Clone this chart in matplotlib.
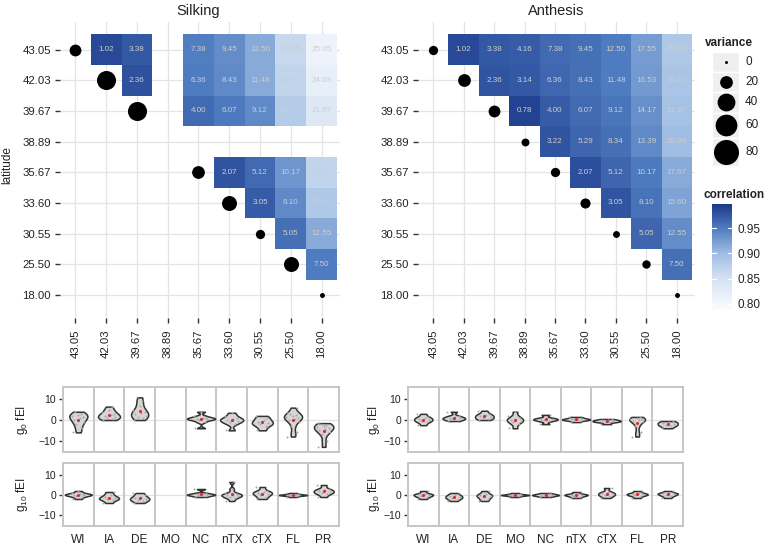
import matplotlib

matplotlib.use("Agg")
import matplotlib.pyplot as plt
import numpy as np
from matplotlib.cm import ScalarMappable
from matplotlib.colors import LinearSegmentedColormap, Normalize
from matplotlib.patches import Rectangle

plt.rcParams["font.family"] = ["Liberation Sans", "DejaVu Sans"]

W, H = 773, 545

LATS = ["43.05", "42.03", "39.67", "38.89", "35.67", "33.60", "30.55", "25.50", "18.00"]
STATES = ["WI", "IA", "DE", "MO", "NC", "nTX", "cTX", "FL", "PR"]
VAR_TICKS = [0, 20, 40, 60, 80]
CORR_TICKS = [0.80, 0.85, 0.90, 0.95]

# upper triangle, row i holds columns i+1 .. 8 (None = no pair)
ANTH_DIFF = [
    [1.02, 3.38, 4.16, 7.38, 9.45, 12.50, 17.55, 25.05],
    [2.36, 3.14, 6.36, 8.43, 11.48, 16.53, 24.03],
    [0.78, 4.00, 6.07, 9.12, 14.17, 21.67],
    [3.22, 5.29, 8.34, 13.39, 20.89],
    [2.07, 5.12, 10.17, 17.67],
    [3.05, 8.10, 15.60],
    [5.05, 12.55],
    [7.50],
]
ANTH_CORR = [
    [0.985, 0.975, 0.972, 0.962, 0.958, 0.95, 0.925, 0.885],
    [0.978, 0.975, 0.965, 0.958, 0.95, 0.928, 0.89],
    [0.99, 0.972, 0.962, 0.955, 0.935, 0.895],
    [0.978, 0.966, 0.958, 0.94, 0.90],
    [0.982, 0.966, 0.952, 0.915],
    [0.978, 0.956, 0.92],
    [0.966, 0.938],
    [0.958],
]
SILK_DIFF = [
    [1.02, 3.38, None, 7.38, 9.45, 12.50, 17.55, 25.05],
    [2.36, None, 6.36, 8.43, 11.48, 16.53, 24.03],
    [None, 4.00, 6.07, 9.12, 14.17, 21.67],
    [None, None, None, None, None],
    [2.07, 5.12, 10.17, 17.67],
    [3.05, 8.10, 15.60],
    [5.05, 12.55],
    [7.50],
]
SILK_CORR = [
    [0.985, 0.975, None, 0.948, 0.938, 0.915, 0.865, 0.81],
    [0.98, None, 0.95, 0.94, 0.915, 0.87, 0.82],
    [None, 0.962, 0.952, 0.94, 0.88, 0.835],
    [None, None, None, None, None],
    [0.978, 0.962, 0.93, 0.87],
    [0.972, 0.94, 0.885],
    [0.958, 0.915],
    [0.95],
]
SILK_VAR = [17, 46, 46, None, 20, 28, 10, 28, 2]
ANTH_VAR = [10, 20, 17, 7, 10, 12, 5, 8, 2]

# fEI values per state (order of STATES)
SILK_G0 = [
    [-6, -4, -2, -1, 0, 1, 1.5, 2, 2.5, 3, 4],
    [0, 0.5, 1, 1.5, 2, 2.5, 3, 4, 5, 6.5],
    [0, 1, 1.5, 2, 3, 3.5, 4, 5, 7, 9, 11],
    [],
    [-4, -1, 0, 0.3, 0.6, 1, 1.2, 2, 4],
    [-5, -2, -1, -0.5, 0, 0.5, 1, 2, 3.5],
    [-5, -3, -2, -1.5, -1, 0, 1, 2],
    [-8, -6, -3, -1, 0, 0.5, 1, 1.5, 2, 2.5, 3, 4, 6],
    [-13, -10, -7, -6, -5, -4.5, -4, -3.5, -3, -2.5, -2, -1.5],
]
SILK_G10 = [
    [-2, -1, -0.5, 0, 0, 0.3, 0.6, 1, 2],
    [-4, -2.5, -2, -1.5, -1, 0, 1.5],
    [-4, -3, -2.5, -2, -1.5, -1, 0, 1],
    [],
    [-1, -0.5, 0, 0, 0.3, 0.6, 1, 3],
    [-3, -1.5, -1, -0.5, 0, 0, 0.5, 1, 3, 6.5],
    [-2, -1, 0, 0.5, 1, 1.5, 2, 4],
    [-1, -0.5, -0.2, 0, 0, 0.2, 0.5, 1],
    [-1, 0.5, 1, 1.5, 2, 2.5, 3, 5],
]
ANTH_G0 = [
    [-2.5, -1, -0.5, 0, 0.5, 1, 1.5, 3],
    [-0.5, 0, 0.5, 0.8, 1, 1.5, 2, 4],
    [0, 0.5, 1, 1.5, 2, 2.5, 3, 4.5],
    [-4, -2, -1, -0.5, 0, 0.5, 1, 2, 4],
    [-2, -0.5, 0, 0.3, 0.6, 1, 2.5],
    [-1, -0.3, 0, 0.2, 0.4, 0.6, 1, 1.5],
    [-2, -1, -0.8, -0.5, -0.2, 0, 0.5],
    [-8, -6, -3, -1, -0.5, 0, 0.3, 0.6, 1, 1.5],
    [-4, -3, -2.5, -2, -1.5, -1, -0.5],
]
ANTH_G10 = [
    [-2, -1, -0.5, 0, 0.3, 0.6, 2],
    [-3, -2, -1.5, -1, -0.5, 0, 1],
    [-3, -2, -1, -0.5, 0, 0.5, 2],
    [-1, -0.5, -0.2, 0, 0, 0.2, 0.5, 1],
    [-1, -0.5, -0.2, 0, 0.2, 0.5, 1],
    [-1.5, -0.8, -0.3, 0, 0.2, 0.5, 1.5],
    [-1.5, -0.5, 0, 0.5, 1, 1.5, 3.5],
    [-1.5, -0.5, 0, 0.3, 0.6, 1, 2],
    [-1.5, -0.5, 0, 0.5, 0.8, 1, 2],
]

norm = Normalize(0.788, 0.998)
cmap = LinearSegmentedColormap.from_list(
    "corr",
    [(0.0, "#fbfcff"), (norm(0.85), "#d5e2f2"), (norm(0.90), "#a0bde3"),
     (norm(0.95), "#4f7cc0"), (1.0, "#1b388a")],
)
TEXT_DARK = "#222222"


def px_box(x0, y0, x1, y1):
    return [x0 / W, 1 - y1 / H, (x1 - x0) / W, (y1 - y0) / H]


def dot_size(v):
    # area grows linearly with variance, small floor at zero
    d_px = np.sqrt(9 + 7.7 * v)
    return (d_px * 0.72) ** 2


def heatmap(ax, diffs, corrs, var):
    for i, row in enumerate(corrs):
        for k, c in enumerate(row):
            if c is None:
                continue
            j = i + 1 + k
            ax.add_patch(Rectangle((j - 0.5, i - 0.5), 1, 1, facecolor=cmap(norm(c)),
                                   edgecolor="none", zorder=2))
            ax.text(j, i, f"{diffs[i][k]:.2f}", ha="center", va="center",
                    fontsize=5.8, color="#cdcdcd", zorder=3)
    for i, v in enumerate(var):
        if v is None:
            continue
        ax.scatter(i, i, s=dot_size(v), color="black", zorder=4, linewidths=0)
    ax.set_xticks(range(len(LATS)))
    ax.set_yticks(range(len(LATS)))
    ax.set_xticklabels(LATS, rotation=90)
    ax.set_yticklabels(LATS)
    ax.set_xlim(-0.5, 8.6)
    ax.set_ylim(8.75, -0.9)
    ax.grid(color="#e4e4e4", lw=0.9)
    ax.set_axisbelow(True)
    for s in ax.spines.values():
        s.set_visible(False)
    ax.tick_params(length=3.5, width=1, color="#333333", labelsize=8.2, labelcolor=TEXT_DARK, pad=3)
    ax.tick_params(axis="x", pad=5)


def kde(vals, grid):
    vals = np.asarray(vals, float)
    n = len(vals)
    sd = vals.std(ddof=1)
    iqr = np.subtract(*np.percentile(vals, [75, 25]))
    bw = 0.9 * min(sd, iqr / 1.34 if iqr > 0 else sd) * n ** -0.2
    z = (grid[:, None] - vals[None, :]) / bw
    return np.exp(-0.5 * z ** 2).sum(axis=1) / (n * bw * np.sqrt(2 * np.pi))


JITTER = [-0.18, 0.12, -0.06, 0.2, -0.14, 0.05, 0.16, -0.22, 0.0, 0.09, -0.1]


def violins(ax, groups, show_x):
    curves = {}
    for k, vals in enumerate(groups):
        if vals:
            g = np.linspace(min(vals), max(vals), 200)
            curves[k] = (g, kde(vals, g))
    ref = np.median([d.max() for _, d in curves.values()])
    for k, (g, d) in curves.items():
        vals = groups[k]
        x = k + 1
        half = np.clip(0.33 * (d.max() / ref) ** 0.6, 0.2, 0.46)
        w = d / d.max() * half
        ax.fill_betweenx(g, x - w, x + w, facecolor="#d6d6d6", edgecolor="#333333",
                         lw=1.1, zorder=3)
        jx = [x + JITTER[m % len(JITTER)] for m in range(len(vals))]
        ax.scatter(jx, vals, s=2, color="#a8a8a8", zorder=4, linewidths=0)
        ax.scatter([x], [np.mean(vals)], s=5, color="#e3262f", zorder=5, linewidths=0)
    ax.set_xlim(0.5, 9.5)
    ax.set_ylim(-15.5, 16)
    for b in np.arange(1.5, 9.5):
        ax.axvline(b, color="#c6c6c6", lw=1.4, zorder=2)
    ax.axhline(0, color="#e2e2e2", lw=0.9, zorder=1)
    for s in ax.spines.values():
        s.set_color("#c6c6c6")
        s.set_linewidth(1.4)
    ax.set_yticks([-10, 0, 10])
    ax.tick_params(axis="y", length=3, width=1, color="#333333", labelsize=7.5,
                   labelcolor=TEXT_DARK, pad=2)
    ax.set_xticks(range(1, 10))
    if show_x:
        ax.set_xticklabels(STATES)
        ax.tick_params(axis="x", length=0, labelsize=8.5, labelcolor=TEXT_DARK, pad=6)
    else:
        ax.set_xticklabels([])
        ax.tick_params(axis="x", length=0)


fig = plt.figure(figsize=(W / 100, H / 100), dpi=100)

ax_s = fig.add_axes(px_box(60, 22, 340, 318))
heatmap(ax_s, SILK_DIFF, SILK_CORR, SILK_VAR)
ax_a = fig.add_axes(px_box(418, 22, 695, 318))
heatmap(ax_a, ANTH_DIFF, ANTH_CORR, ANTH_VAR)

fig.text(198 / W, 1 - 11 / H, "Silking", ha="center", va="center", fontsize=10.5, color=TEXT_DARK)
fig.text(556 / W, 1 - 11 / H, "Anthesis", ha="center", va="center", fontsize=10.5, color=TEXT_DARK)
fig.text(7 / W, 1 - 165 / H, "latitude", rotation=90, ha="center", va="center", fontsize=8.5,
         color=TEXT_DARK)

# violin panels
for x0, x1, g0, g10, ylab_x in [(63, 339, SILK_G0, SILK_G10, 22), (408, 683, ANTH_G0, ANTH_G10, 374)]:
    ax_t = fig.add_axes(px_box(x0, 387, x1, 452))
    violins(ax_t, g0, False)
    ax_b = fig.add_axes(px_box(x0, 463, x1, 526))
    violins(ax_b, g10, True)
    fig.text(ylab_x / W, 1 - 420 / H, r"$\mathregular{g_0}$ fEI", rotation=90, ha="center",
             va="center", fontsize=8.5, color=TEXT_DARK)
    fig.text(ylab_x / W, 1 - 495 / H, r"$\mathregular{g_{10}}$ fEI", rotation=90, ha="center",
             va="center", fontsize=8.5, color=TEXT_DARK)

# variance legend
ax_l = fig.add_axes(px_box(700, 28, 773, 180))
ax_l.set_xlim(700, 773)
ax_l.set_ylim(180, 28)
ax_l.axis("off")
ax_l.text(705, 43, "variance", fontsize=8.5, fontweight="bold", va="center", color=TEXT_DARK)
top = 52
for v in VAR_TICKS:
    d = np.sqrt(9 + 7.7 * v)
    h = max(20, d + 3)
    ax_l.add_patch(Rectangle((712, top), 27, h, facecolor="#efefef", edgecolor="white", lw=1))
    ax_l.scatter(725.5, top + h / 2, s=dot_size(v), color="black", linewidths=0, zorder=3)
    ax_l.text(745, top + h / 2, str(v), fontsize=8.5, va="center", color=TEXT_DARK)
    top += h

# correlation colorbar
fig.text(703 / W, 1 - 195 / H, "correlation", fontsize=8.5, fontweight="bold", va="center",
         color=TEXT_DARK)
cax = fig.add_axes(px_box(712, 204, 732, 310))
cb = fig.colorbar(ScalarMappable(norm=norm, cmap=cmap), cax=cax)
cb.outline.set_visible(False)
cb.set_ticks(CORR_TICKS)
cb.set_ticklabels([f"{t:.2f}" for t in CORR_TICKS])
cax.tick_params(length=0, labelsize=8.5, labelcolor=TEXT_DARK, pad=4)
for t in CORR_TICKS:
    cax.plot([0, 0.2], [t, t], color="white", lw=0.8, transform=cax.get_yaxis_transform())
    cax.plot([0.8, 1], [t, t], color="white", lw=0.8, transform=cax.get_yaxis_transform())

fig.savefig("out.png", dpi=100)
